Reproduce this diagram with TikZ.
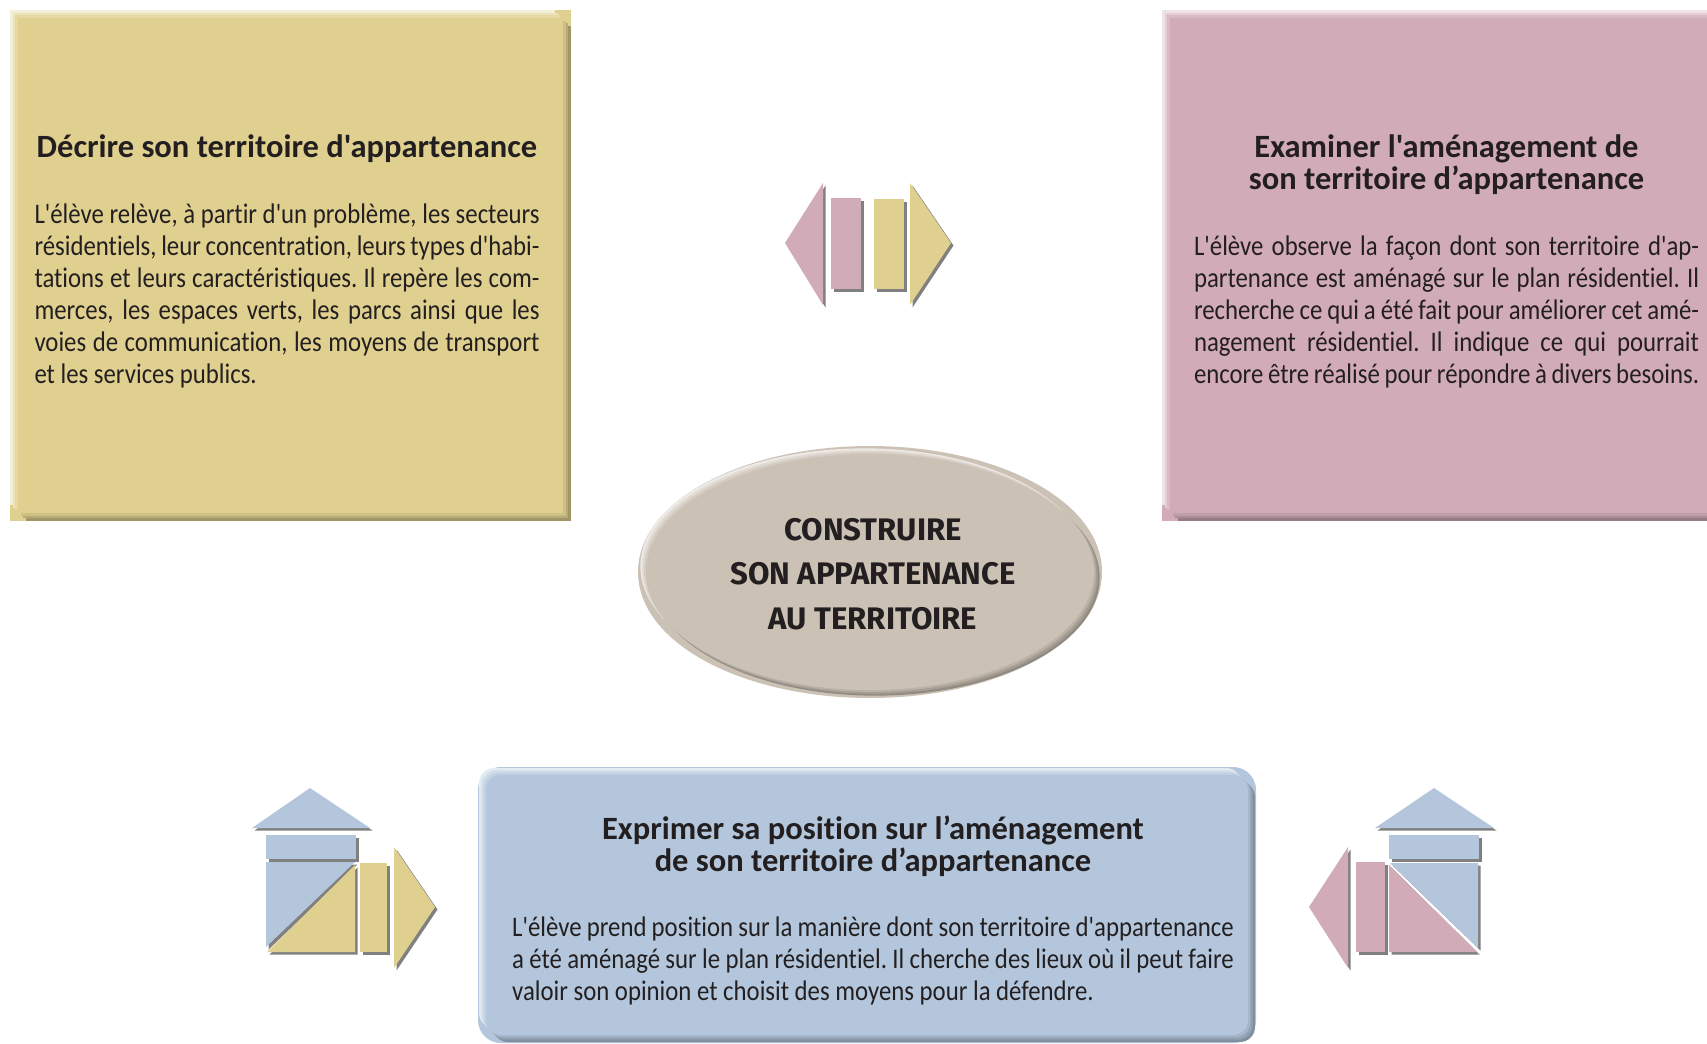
\documentclass[tikz,border=0pt]{standalone}
\usepackage{fontspec}
\setmainfont{Carlito}[Ligatures={TeXOff,CommonOff}]
\newfontfamily\bodyfont{Carlito}[FakeStretch=0.875, Ligatures={TeXOff,CommonOff}]
\newfontfamily\brushfont{Fira Sans}
\usetikzlibrary{positioning, shapes.geometric, shadows}
\definecolor{panelyellow}{HTML}{E0D08F}
\definecolor{panelpink}{HTML}{D2ABB8}
\definecolor{panelblue}{HTML}{B3C6DC}
\definecolor{panelbeige}{HTML}{CBC1B5}
\definecolor{ink}{HTML}{231F20}
\tikzset{
	bevel/.style 2 args={fill=#1, inner sep=0pt,
		preaction={draw=#1, line width=9.6pt},
		preaction={fill=#1!35!white, transform canvas={shift={(-3*#2,3*#2)}}},
		preaction={fill=#1!72!black, transform canvas={shift={(3*#2,-3*#2)}}},
		preaction={fill=#1!60!white, transform canvas={shift={(-2*#2,2*#2)}}},
		preaction={fill=#1!82!black, transform canvas={shift={(2*#2,-2*#2)}}},
		preaction={fill=#1!82!white, transform canvas={shift={(-#2,#2)}}},
		preaction={fill=#1!92!black, transform canvas={shift={(#2,-#2)}}}},
	piece/.style={fill=#1, drop shadow={shadow xshift=1.5pt, shadow yshift=-1.5pt, fill=black!50, opacity=1}},
	heading/.style={font=\fontsize{19.5}{19.2}\selectfont\bfseries, text=ink, align=center, inner sep=0pt},
	bodytext/.style={font=\bodyfont\fontsize{17}{19.2}\selectfont\frenchspacing, text=ink, align=justify, inner sep=0pt},
	centertext/.style={font=\brushfont\fontsize{18.7}{26.6}\selectfont\bfseries, text=ink, align=center, inner sep=0pt}
}
\begin{document}
\begin{tikzpicture}[x=0.6pt, y=-0.6pt]
	\useasboundingbox (0,0) rectangle (1707,1043);
	\node[bevel={panelyellow}{1.6pt}, minimum width=327pt, minimum height=297pt] (boxY) at (290.5,265.5) {};
	\node[bevel={panelpink}{1.6pt}, minimum width=354pt, minimum height=297pt] (boxP) at (1465,265.5) {};
	\node[bevel={panelblue}{1.4pt}, rounded corners=9pt, minimum width=457.2pt, minimum height=156pt] (boxB) at (867,905) {};
	\node[bevel={panelbeige}{1.13pt}, ellipse, minimum width=268.8pt, minimum height=141.6pt] (core) at (870,572) {};
	% texts
	\node[heading] (titleY) at (287,149) {Décrire son territoire d'appartenance};
	\node[bodytext, text width=303pt, below=24.4pt of titleY] (textY) {L'élève relève, à partir d'un problème, les secteurs\linebreak
		résidentiels, leur concentration, leurs types d'habi-\linebreak
		tations et leurs caractéristiques. Il repère les com-\linebreak
		merces, les espaces verts, les parcs ainsi que les\linebreak
		voies de communication, les moyens de transport\linebreak
		et les services publics.};
	\node[heading] (titleP) at (1446.5,164.5) {Examiner l'aménagement de\\son territoire d’appartenance};
	\node[bodytext, text width=303pt, below=24.4pt of titleP] (textP) {L'élève observe la façon dont son territoire d'ap-\linebreak
		partenance est aménagé sur le plan résidentiel. Il\linebreak
		recherche ce qui a été fait pour améliorer cet amé-\linebreak
		nagement résidentiel. Il indique ce qui pourrait\linebreak
		encore être réalisé pour répondre à divers besoins.};
	\node[heading] (titleB) at (873,846) {Exprimer sa position sur l’aménagement\\de son territoire d’appartenance};
	\node[bodytext, text width=433pt, below=24pt of titleB] (textB) {L'élève prend position sur la manière dont son territoire d'appartenance\linebreak
		a été aménagé sur le plan résidentiel. Il cherche des lieux où il peut faire\linebreak
		valoir son opinion et choisit des moyens pour la défendre.};
	\node[centertext] (coreT) at (873,574) {CONSTRUIRE\\SON APPARTENANCE\\AU TERRITOIRE};
	% pieces between the two upper panels
	\fill[piece=panelpink] (785,243) -- (823,183) -- (823,305) -- cycle;
	\fill[piece=panelpink] (831,198) rectangle (861,289);
	\fill[piece=panelyellow] (874,199) rectangle (904,289);
	\fill[piece=panelyellow] (910,183) -- (951,243) -- (910,305) -- cycle;
	% left house
	\fill[piece=panelblue] (310,788) -- (370,828) -- (252,828) -- cycle;
	\fill[piece=panelblue] (266,835) rectangle (356,859);
	\fill[piece=panelblue] (266,862) -- (355,862) -- (266,947) -- cycle;
	\fill[piece=panelyellow] (355,865) -- (355,952) -- (267,952) -- cycle;
	\fill[piece=panelyellow] (360,863) rectangle (387,952);
	\fill[piece=panelyellow] (394,847) -- (435,907) -- (394,968) -- cycle;
	% right house
	\fill[piece=panelblue] (1434,788) -- (1494,828) -- (1375,828) -- cycle;
	\fill[piece=panelblue] (1389,835) rectangle (1479,859);
	\fill[piece=panelblue] (1390,863) -- (1478,863) -- (1478,948) -- cycle;
	\fill[piece=panelpink] (1389,865) -- (1389,952) -- (1477,952) -- cycle;
	\fill[piece=panelpink] (1356,862) rectangle (1385,952);
	\fill[piece=panelpink] (1348,847) -- (1309,907) -- (1348,968) -- cycle;
\end{tikzpicture}
\end{document}
